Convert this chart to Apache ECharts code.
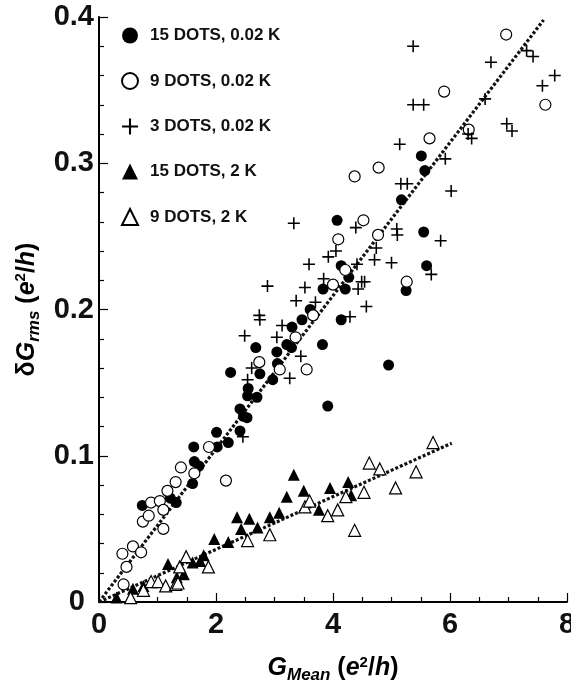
<!DOCTYPE html>
<html><head><meta charset="utf-8">
<script src="https://cdn.jsdelivr.net/npm/echarts@6/dist/echarts.min.js"></script>
<style>html,body{margin:0;padding:0;background:#fff}#c{width:571px;height:684px}</style>
</head><body><div id="c"></div>
<script>
// ---- data (x = G_Mean, y = dG_rms, both in e^2/h) ----
const seriesNames = ['15 DOTS, 0.02 K', '9 DOTS, 0.02 K', '3 DOTS, 0.02 K', '15 DOTS, 2 K', '9 DOTS, 2 K'];

const dots15Cold = [
  [0.74,0.066],[1.22,0.071],[1.32,0.068],[1.60,0.081],[1.62,0.106],[1.63,0.096],[1.71,0.093],
  [2.01,0.116],[2.02,0.106],[2.21,0.109],[2.25,0.157],[2.41,0.132],[2.41,0.117],[2.47,0.127],
  [2.53,0.126],[2.55,0.146],[2.54,0.141],[2.68,0.174],[2.70,0.140],[2.75,0.156],[2.97,0.152],
  [3.04,0.171],[3.05,0.163],[3.21,0.176],[3.30,0.188],[3.29,0.174],[3.47,0.193],[3.61,0.200],
  [3.82,0.176],[3.83,0.214],[3.91,0.134],[4.07,0.261],[4.14,0.230],[4.14,0.193],[4.21,0.214],
  [4.27,0.222],[4.95,0.162],[5.25,0.213],[5.17,0.275],[5.51,0.305],[5.57,0.295],[5.55,0.253],
  [5.60,0.230]
];
const dots9Cold = [
  [0.40,0.033],[0.42,0.012],[0.47,0.024],[0.58,0.038],[0.72,0.034],[0.75,0.055],[0.85,0.059],
  [0.89,0.068],[1.04,0.069],[1.10,0.063],[1.10,0.050],[1.17,0.076],[1.31,0.082],[1.40,0.092],
  [1.63,0.088],[1.88,0.106],[2.17,0.083],[2.74,0.164],[3.09,0.159],[3.36,0.181],[3.55,0.159],
  [3.66,0.196],[4.00,0.217],[4.09,0.248],[4.21,0.227],[4.37,0.291],[4.52,0.261],[4.77,0.251],
  [4.78,0.297],[5.26,0.219],[5.65,0.317],[5.90,0.349],[6.32,0.323],[6.96,0.388],[7.63,0.340]
];
const dots3Cold = [
  [2.46,0.113],[2.49,0.182],[2.54,0.152],[2.61,0.160],[2.74,0.196],[2.75,0.193],[2.88,0.216],
  [3.04,0.181],[3.13,0.189],[3.26,0.153],[3.33,0.259],[3.37,0.206],[3.45,0.168],[3.52,0.215],
  [3.59,0.231],[3.70,0.205],[3.84,0.221],[3.92,0.236],[4.05,0.240],[4.29,0.195],[4.39,0.256],
  [4.41,0.231],[4.43,0.214],[4.49,0.219],[4.54,0.219],[4.57,0.202],[4.71,0.234],[4.74,0.242],
  [5.00,0.232],[5.09,0.255],[5.10,0.251],[5.14,0.313],[5.16,0.286],[5.27,0.286],[5.37,0.380],
  [5.37,0.340],[5.55,0.340],[5.68,0.224],[5.84,0.247],[5.92,0.303],[6.02,0.281],[6.31,0.320],
  [6.37,0.317],[6.60,0.344],[6.70,0.369],[6.97,0.327],[7.06,0.322],[7.31,0.377],[7.42,0.373],
  [7.58,0.353],[7.79,0.360]
];
const dots15Warm = [
  [0.30,0.003],[0.58,0.009],[0.76,0.011],[1.18,0.026],[1.33,0.017],[1.45,0.019],[1.60,0.027],
  [1.73,0.028],[1.79,0.032],[1.97,0.043],[2.21,0.041],[2.36,0.058],[2.43,0.050],[2.57,0.057],
  [2.71,0.051],[2.92,0.058],[3.08,0.061],[3.21,0.072],[3.33,0.087],[3.50,0.076],[3.76,0.063],
  [3.95,0.078],[4.26,0.082],[4.31,0.073]
];
const dots9Warm = [
  [0.54,0.003],[0.76,0.008],[0.89,0.014],[1.01,0.014],[1.14,0.011],[1.31,0.012],[1.35,0.013],
  [1.38,0.024],[1.49,0.031],[1.87,0.024],[2.54,0.042],[2.92,0.046],[3.52,0.065],[3.60,0.069],
  [3.91,0.059],[4.08,0.063],[4.22,0.072],[4.37,0.049],[4.53,0.075],[4.62,0.095],[4.80,0.091],
  [5.07,0.078],[5.42,0.089],[5.71,0.109]
];
// fitted dotted lines (end points)
const fitCold = [[0,0],[7.6,0.398]];
const fitWarm = [[0,0],[6.03,0.1086]];

const FONT = '"Liberation Sans", Arial, sans-serif';
const INK = '#000';
const PLUS = 'path://M0,4.35H10V5.65H0Z M4.35,0H5.65V10H4.35Z';

const titleRich = {
  g: {fontSize:25, fontWeight:'bold', fontStyle:'italic', fontFamily:FONT, color:INK, lineHeight:32},
  d: {fontSize:25, fontWeight:'bold', fontFamily:FONT, color:INK, lineHeight:32},
  s: {fontSize:17, fontWeight:'bold', fontStyle:'italic', fontFamily:FONT, color:INK, lineHeight:17, verticalAlign:'bottom'},
  n: {fontSize:25, fontWeight:'bold', fontFamily:FONT, color:INK, lineHeight:32},
  i: {fontSize:25, fontWeight:'bold', fontStyle:'italic', fontFamily:FONT, color:INK, lineHeight:32},
  p: {fontSize:15, fontWeight:'bold', fontFamily:FONT, color:INK, lineHeight:15, verticalAlign:'top', padding:[3,0,0,0]}
};

const chart = echarts.init(document.getElementById('c'), null, {renderer:'canvas'});
function scatter(name, data, symbol, size, filled){
  return {
    name, type:'scatter', data, symbol, symbolSize:size, z:3,
    itemStyle: filled ? {color:INK, borderWidth:0, opacity:1} : {color:'#fff', borderColor:INK, borderWidth:1.2, opacity:1}
  };
}
function fit(data){
  return {type:'line', data, showSymbol:false, symbol:'none', z:2, silent:true,
    lineStyle:{color:'#111', width:3.2, type:[3,2], cap:'butt'}};
}
chart.setOption({
  animation:false,
  backgroundColor:'#fff',
  grid:{left:99, right:4, top:17, bottom:82, containLabel:false, outerBoundsMode:'none'},
  legend:{
    data:seriesNames, orient:'vertical', left:116, top:22,
    itemWidth:16, itemHeight:16, itemGap:28,
    textStyle:{fontSize:17, fontWeight:'bold', fontFamily:FONT, color:'#111', padding:[0,0,0,7]}
  },
  xAxis:{
    type:'value', min:0, max:8, interval:2,
    axisLine:{lineStyle:{color:INK, width:2}},
    axisTick:{inside:true, length:9, lineStyle:{color:INK, width:1.2}},
    minorTick:{show:true, splitNumber:4, length:5, lineStyle:{color:INK, width:1.2}},
    splitLine:{show:false},
    axisLabel:{fontSize:29, fontWeight:'bold', fontFamily:FONT, color:'#111', margin:8},
    name:'{g|G}{s|Mean}{n| (}{i|e}{p|2}{n|/}{i|h}{n|)}',
    nameLocation:'middle', nameGap:50,
    nameTextStyle:{rich:titleRich}
  },
  yAxis:{
    type:'value', min:0, max:0.4, interval:0.1,
    axisLine:{lineStyle:{color:INK, width:2}},
    axisTick:{inside:true, length:9, lineStyle:{color:INK, width:1.2}},
    minorTick:{show:true, splitNumber:5, length:5, lineStyle:{color:INK, width:1.2}},
    splitLine:{show:false},
    axisLabel:{fontSize:29, fontWeight:'bold', fontFamily:FONT, color:'#111', margin:5,
      formatter: v => v === 0 ? '{z|0}' : v.toFixed(1),
      rich:{z:{fontSize:29, fontWeight:'bold', fontFamily:FONT, color:'#111', padding:[0,9,0,0]}}},
    name:'{d|δ}{g|G}{s|rms}{n| (}{i|e}{p|2}{n|/}{i|h}{n|)}',
    nameLocation:'middle', nameGap:55, nameRotate:90,
    nameTextStyle:{rich:titleRich}
  },
  series:[
    fit(fitCold), fit(fitWarm),
    scatter(seriesNames[0], dots15Cold, 'circle', 11, true),
    scatter(seriesNames[1], dots9Cold, 'circle', 11, false),
    scatter(seriesNames[2], dots3Cold, PLUS, 12, true),
    scatter(seriesNames[3], dots15Warm, 'triangle', 12, true),
    scatter(seriesNames[4], dots9Warm, 'triangle', 12, false)
  ]
});
</script></body></html>
